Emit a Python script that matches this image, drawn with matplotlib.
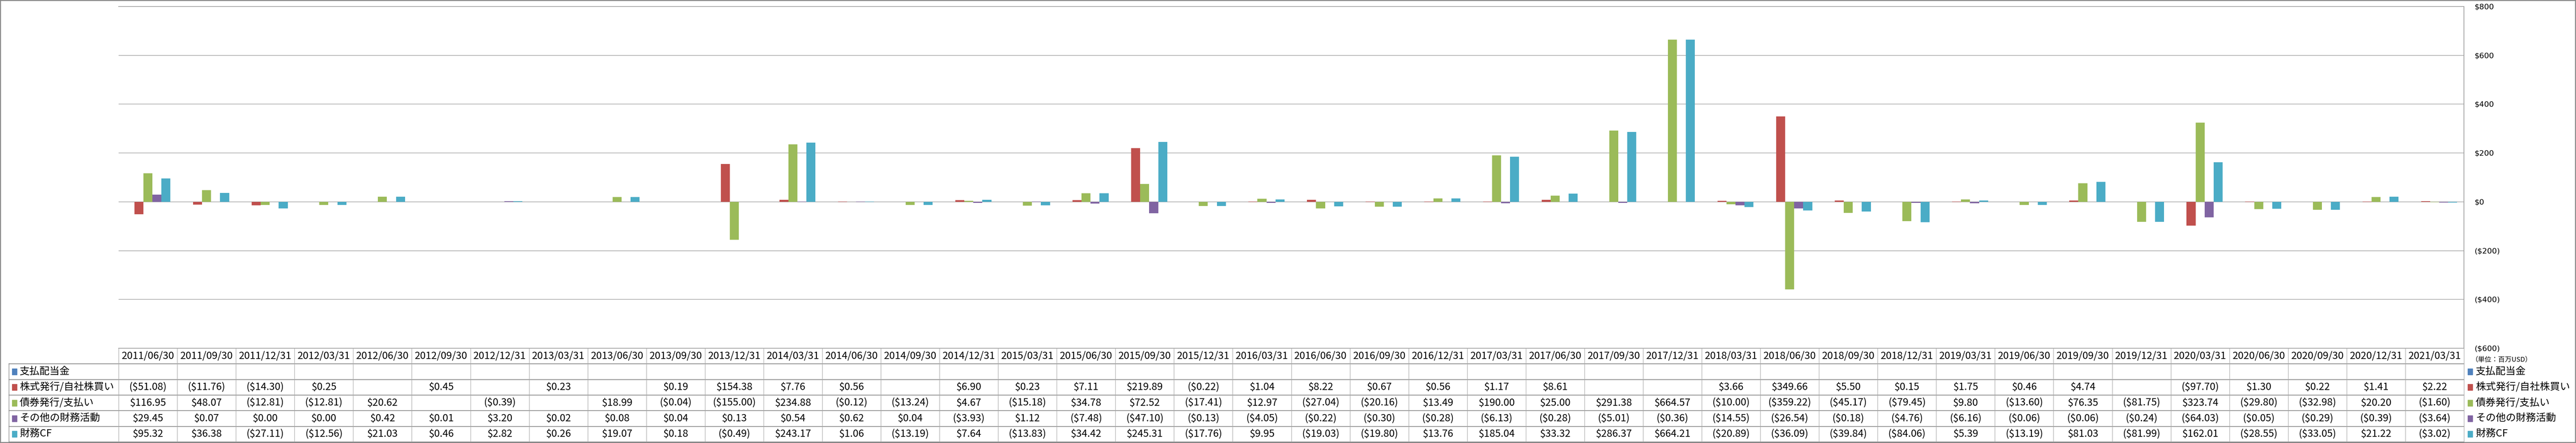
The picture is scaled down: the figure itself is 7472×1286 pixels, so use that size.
import matplotlib
matplotlib.use('Agg')
import matplotlib.pyplot as plt
from matplotlib.patches import Rectangle

plt.rcParams['font.family'] = ['Noto Sans CJK JP', 'DejaVu Sans']

dates = ['2011/06/30', '2011/09/30', '2011/12/31', '2012/03/31', '2012/06/30', '2012/09/30', '2012/12/31', '2013/03/31',
         '2013/06/30', '2013/09/30', '2013/12/31', '2014/03/31', '2014/06/30', '2014/09/30', '2014/12/31', '2015/03/31',
         '2015/06/30', '2015/09/30', '2015/12/31', '2016/03/31', '2016/06/30', '2016/09/30', '2016/12/31', '2017/03/31',
         '2017/06/30', '2017/09/30', '2017/12/31', '2018/03/31', '2018/06/30', '2018/09/30', '2018/12/31', '2019/03/31',
         '2019/06/30', '2019/09/30', '2019/12/31', '2020/03/31', '2020/06/30', '2020/09/30', '2020/12/31', '2021/03/31']

# 支払配当金 (全期間空欄)
dividends = [None, None, None, None, None, None, None, None, None, None,
             None, None, None, None, None, None, None, None, None, None,
             None, None, None, None, None, None, None, None, None, None,
             None, None, None, None, None, None, None, None, None, None]
# 株式発行/自社株買い
stock = [-51.08, -11.76, -14.30, 0.25, None, 0.45, None, 0.23, None, 0.19,
         154.38, 7.76, 0.56, None, 6.90, 0.23, 7.11, 219.89, -0.22, 1.04,
         8.22, 0.67, 0.56, 1.17, 8.61, None, None, 3.66, 349.66, 5.50,
         0.15, 1.75, 0.46, 4.74, None, -97.70, 1.30, 0.22, 1.41, 2.22]
# 債券発行/支払い
bonds = [116.95, 48.07, -12.81, -12.81, 20.62, None, -0.39, None, 18.99, -0.04,
         -155.00, 234.88, -0.12, -13.24, 4.67, -15.18, 34.78, 72.52, -17.41, 12.97,
         -27.04, -20.16, 13.49, 190.00, 25.00, 291.38, 664.57, -10.00, -359.22, -45.17,
         -79.45, 9.80, -13.60, 76.35, -81.75, 323.74, -29.80, -32.98, 20.20, -1.60]
# その他の財務活動
other = [29.45, 0.07, 0.00, 0.00, 0.42, 0.01, 3.20, 0.02, 0.08, 0.04,
         0.13, 0.54, 0.62, 0.04, -3.93, 1.12, -7.48, -47.10, -0.13, -4.05,
         -0.22, -0.30, -0.28, -6.13, -0.28, -5.01, -0.36, -14.55, -26.54, -0.18,
         -4.76, -6.16, -0.06, -0.06, -0.24, -64.03, -0.05, -0.29, -0.39, -3.64]
# 財務CF
fin_cf = [95.32, 36.38, -27.11, -12.56, 21.03, 0.46, 2.82, 0.26, 19.07, 0.18,
          -0.49, 243.17, 1.06, -13.19, 7.64, -13.83, 34.42, 245.31, -17.76, 9.95,
          -19.03, -19.80, 13.76, 185.04, 33.32, 286.37, 664.21, -20.89, -36.09, -39.84,
          -84.06, 5.39, -13.19, 81.03, -81.99, 162.01, -28.55, -33.05, 21.22, -3.02]

names = ['支払配当金', '株式発行/自社株買い', '債券発行/支払い', 'その他の財務活動', '財務CF']
series = [dividends, stock, bonds, other, fin_cf]
colors = ['#4F81BD', '#C0504D', '#9BBB59', '#8064A2', '#4BACC6']
yticks = [-600, -400, -200, 0, 200, 400, 600, 800]


def money(v, dec=2):
    if v is None:
        return ''
    if v < 0:
        return '($%.*f)' % (dec, -v)
    return '$%.*f' % (dec, v)


W, H = 7472, 1286
fig = plt.figure(figsize=(W / 100, H / 100), dpi=100)

# 棒グラフ部分
ax = fig.add_axes([344 / W, 1 - 1011 / H, (7147 - 344) / W, (1011 - 19) / H])
n = len(dates)
bw = 1 / 6.5
for k, vals in enumerate(series):
    xs = [i + (k - 2) * bw for i in range(n) if vals[i] is not None]
    hs = [v for v in vals if v is not None]
    ax.bar(xs, hs, width=bw, color=colors[k], zorder=3)

ax.set_xlim(-0.5, n - 0.5)
ax.set_ylim(-600, 800)
ax.set_xticks([])
ax.set_yticks(yticks)
ax.set_yticklabels([money(t, 0) for t in yticks], family='DejaVu Sans')
for lab, t in zip(ax.get_yticklabels(), yticks):
    lab.set_color('red' if t < 0 else 'black')
ax.yaxis.tick_right()
ax.tick_params(axis='y', length=0, pad=22, labelsize=16)
ax.yaxis.grid(True, color='#A6A6A6', lw=1.3)
ax.set_axisbelow(True)
for s in ax.spines.values():
    s.set_color('#A0A0A0')
    s.set_linewidth(1.5)
ax.spines['left'].set_visible(False)

# データテーブル
colw = 170
x0 = -0.5 - (344 - 26) / colw
tab = fig.add_axes([26 / W, 1 - 1283 / H, (7147 - 26) / W, (1283 - 1011) / H])
tab.set_xlim(x0, n - 0.5)
tab.set_ylim(6, 0)
tab.axis('off')

for r in range(1, 7):
    tab.plot([x0, n - 0.5], [r, r], color='#8C8C8C', lw=1.6, clip_on=False)
tab.plot([x0, x0], [1, 6], color='#8C8C8C', lw=1.2, clip_on=False)
for i in range(n + 1):
    tab.plot([i - 0.5, i - 0.5], [0, 6], color='#A6A6A6', lw=1.0, clip_on=False)

for i, d in enumerate(dates):
    tab.text(i, 0.5, d, ha='center', va='center', fontsize=21)
for r, vals in enumerate(series):
    for i, v in enumerate(vals):
        tab.text(i, r + 1.5, money(v), ha='center', va='center', fontsize=21)
    # 行ラベル
    tab.add_patch(Rectangle((x0 + 9 / colw, r + 1.5 - 0.2), 14 / colw, 0.4,
                            color=colors[r], clip_on=False))
    tab.text(x0 + 31 / colw, r + 1.5, names[r], ha='left', va='center', fontsize=21)
    # 右側の凡例
    tab.add_patch(Rectangle((n - 0.5 + 11 / colw, r + 1.5 - 0.2), 14 / colw, 0.4,
                            color=colors[r], clip_on=False))
    tab.text(n - 0.5 + 34 / colw, r + 1.5, names[r], ha='left', va='center', fontsize=21,
             clip_on=False)

fig.text(7168 / W, 1 - 1045 / H, '（単位：百万USD）', fontsize=14, ha='left', va='center')

# 外枠
fig.add_artist(Rectangle((0, 0), 1, 1, transform=fig.transFigure, fill=False,
                         ec='#878787', lw=4))

fig.savefig('out.png', dpi=100)
